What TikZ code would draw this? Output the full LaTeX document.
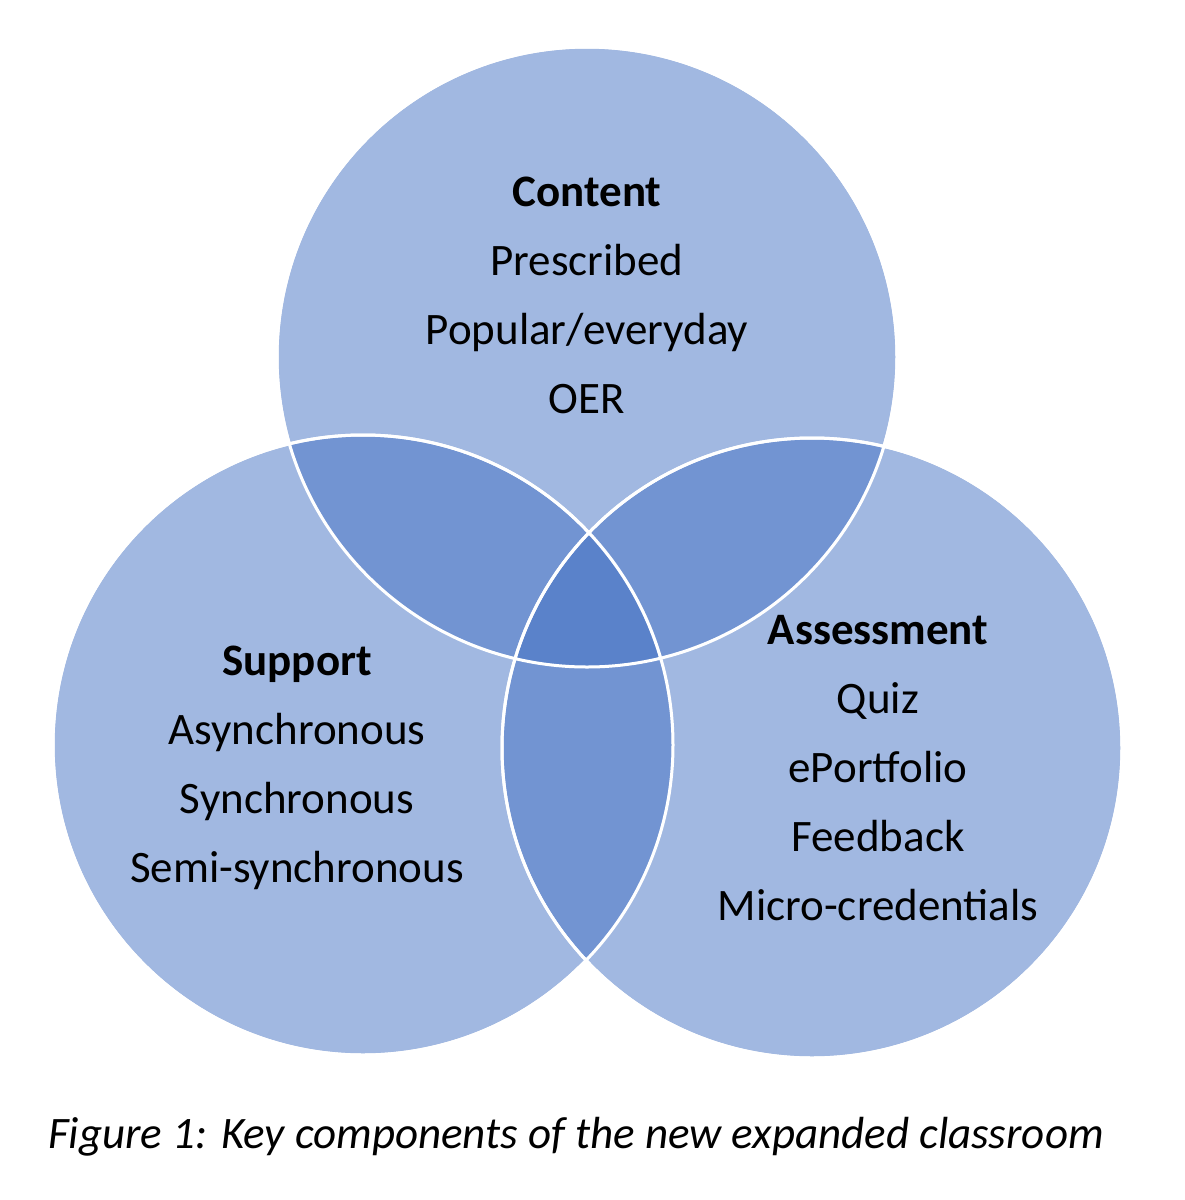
\documentclass[tikz,border=0pt]{standalone}
\usepackage{fontspec}
\setmainfont{Carlito}
\begin{document}
\begin{tikzpicture}[x=1pt,y=-1pt,
  venn/.style={circle,minimum size=620pt,fill={rgb,255:red,68;green,114;blue,196},fill opacity=0.5,draw=white,line width=3pt,inner sep=0pt},
  lbl/.style={font=\fontsize{45}{69}\selectfont,align=center,text opacity=1}]
\useasboundingbox[fill=white] (0,0) rectangle (1185,1200);
\node[venn] (c) at (587,357) {};
\node[venn] (s) at (363,745) {};
\node[venn] (a) at (812,748) {};
\draw[white,line width=3pt] (c.center) circle (310pt) (s.center) circle (310pt) (a.center) circle (310pt);
\node[lbl] (ct) at (587,295) {\textbf{Content}\\Prescribed\\Popular/everyday\\OER};
\node[lbl] (st) at (297,768) {\textbf{Support}\\Asynchronous\\Synchronous\\Semi-synchronous};
\node[lbl] (at) at (878,768) {\textbf{Assessment}\\Quiz\\ePortfolio\\Feedback\\Micro-credentials};
\node[font=\fontsize{45}{50}\selectfont\itshape] (cap) at (576,1137) {Figure 1: Key components of the new expanded classroom};
\end{tikzpicture}
\end{document}
